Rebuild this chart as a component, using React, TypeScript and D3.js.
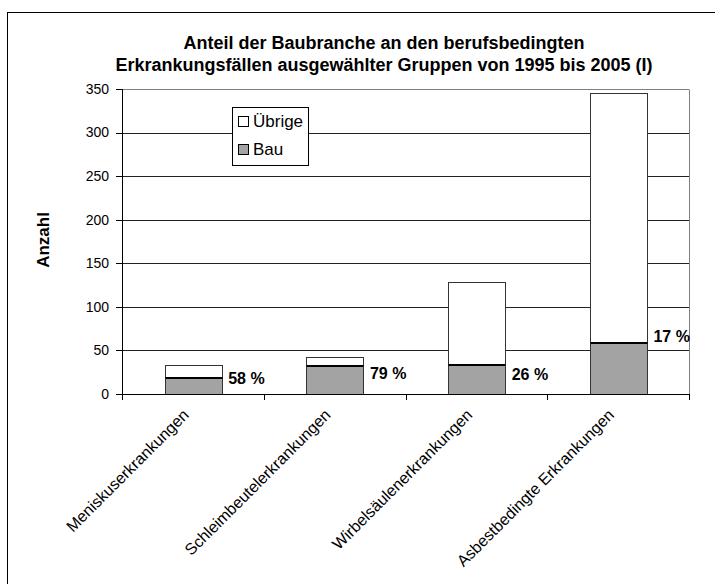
import React from "react";
import * as d3 from "d3";

const categories = [
  "Meniskuserkrankungen",
  "Schleimbeutelerkrankungen",
  "Wirbelsäulenerkrankungen",
  "Asbestbedingte Erkrankungen",
];
const bauValues = [19, 33, 34, 60];
const uebrigeValues = [14, 9, 95, 285];
// value-axis height at which each percentage annotation sits
const labelAnchorValues = [17.5, 24, 23, 66];
const yTicks = [0, 50, 100, 150, 200, 250, 300, 350];
const titleLines = [
  "Anteil der Baubranche an den berufsbedingten",
  "Erkrankungsfällen ausgewählter Gruppen von 1995 bis 2005 (I)",
];
const legendItems = [
  { label: "Übrige", fill: "#ffffff" },
  { label: "Bau", fill: "#a3a3a3" },
];

const W = 715;
const H = 584;
const plotLeft = 122;
const plotRight = 689;
const plotTop = 89;
const plotBottom = 394;
const FONT = "'Liberation Sans', Arial, Helvetica, sans-serif";
const BAU = "#a3a3a3";

export default function App() {
  const x = d3
    .scaleBand<string>()
    .domain(categories)
    .range([plotLeft, plotRight])
    .paddingInner(0.6)
    .paddingOuter(0.3);
  const slot = d3
    .scaleBand<string>()
    .domain(categories)
    .range([plotLeft, plotRight])
    .padding(0);
  const y = d3.scaleLinear().domain([0, 350]).range([plotBottom, plotTop]);

  const stackData = categories.map((c, i) => ({
    cat: c,
    bau: bauValues[i],
    ueb: uebrigeValues[i],
  }));
  const stack = d3.stack<any>().keys(["bau", "ueb"])(stackData);

  return (
    <svg
      width={W}
      height={H}
      style={{ position: "absolute", left: 0, top: 0, background: "#fff" }}
      fontFamily={FONT}
    >
      <rect x={0} y={0} width={W} height={H} fill="#fff" />
      {/* outer chart frame */}
      <rect x={7.5} y={12.5} width={800} height={700} fill="none" stroke="#000" strokeWidth={1} />

      {/* title */}
      {titleLines.map((t, i) => (
        <text
          key={i}
          x={384}
          y={49 + i * 22}
          textAnchor="middle"
          fontSize={18}
          fontWeight="bold"
          fill="#000"
        >
          {t}
        </text>
      ))}

      {/* gridlines */}
      {yTicks.slice(1).map((t) => (
        <line
          key={t}
          x1={plotLeft}
          x2={plotRight}
          y1={Math.round(y(t)) + 0.5}
          y2={Math.round(y(t)) + 0.5}
          stroke={t === 350 ? "#808080" : "#222"}
          strokeWidth={1}
        />
      ))}
      {/* plot border right */}
      <line
        x1={plotRight + 0.5}
        x2={plotRight + 0.5}
        y1={Math.round(y(350)) + 0.5}
        y2={plotBottom}
        stroke="#808080"
      />

      {/* bars */}
      {stack.map((layer, li) =>
        layer.map((d, i) => {
          const cat = categories[i];
          const x0 = Math.round(x(cat)!) + 0.5;
          const w = Math.round(x.bandwidth());
          const yTop = Math.round(y(d[1])) + 0.5;
          const yBot = Math.round(y(d[0])) + 0.5;
          return (
            <rect
              key={li + "-" + i}
              x={x0}
              y={yTop}
              width={w}
              height={yBot - yTop}
              fill={li === 0 ? BAU : "#fff"}
              stroke="#333"
              strokeWidth={1}
            />
          );
        })
      )}
      {/* junction lines between Bau and Übrige */}
      {stack[0].map((d, i) => {
        const cat = categories[i];
        const x0 = Math.round(x(cat)!) + 0.5;
        const w = Math.round(x.bandwidth());
        const yy = Math.round(y(d[1])) + 1;
        return <line key={"j" + i} x1={x0} x2={x0 + w} y1={yy} y2={yy} stroke="#000" strokeWidth={2} />;
      })}

      {/* percentage labels */}
      {categories.map((cat, i) => {
        const pct = Math.round((bauValues[i] / (bauValues[i] + uebrigeValues[i])) * 100);
        return (
          <text
            key={"p" + i}
            x={x(cat)! + x.bandwidth() + 7}
            y={y(labelAnchorValues[i])}
            dy="0.35em"
            fontSize={16}
            fontWeight="bold"
            fill="#000"
          >
            {pct + " %"}
          </text>
        );
      })}

      {/* axes */}
      <line x1={plotLeft + 0.5} x2={plotLeft + 0.5} y1={y(350)} y2={plotBottom} stroke="#000" />
      <line x1={plotLeft} x2={plotRight + 1} y1={plotBottom + 0.5} y2={plotBottom + 0.5} stroke="#000" />
      {yTicks.map((t) => (
        <g key={"yt" + t}>
          <line
            x1={plotLeft - 6}
            x2={plotLeft}
            y1={Math.round(y(t)) + 0.5}
            y2={Math.round(y(t)) + 0.5}
            stroke="#000"
          />
          <text x={109} y={y(t)} dy="0.35em" textAnchor="end" fontSize={14} fill="#000">
            {t}
          </text>
        </g>
      ))}
      {categories.concat(["__end"]).map((c, i) => {
        const xx = Math.round(plotLeft + i * slot.step()) + 0.5;
        return <line key={"xt" + i} x1={xx} x2={xx} y1={plotBottom} y2={plotBottom + 6} stroke="#000" />;
      })}
      {categories.map((cat) => {
        const cx = slot(cat)! + slot.bandwidth() / 2 - 3;
        const cy = 416;
        return (
          <text
            key={"xl" + cat}
            x={cx}
            y={cy}
            textAnchor="end"
            fontSize={16}
            fill="#000"
            transform={`rotate(-45 ${cx} ${cy})`}
          >
            {cat}
          </text>
        );
      })}

      {/* y-axis title */}
      <text
        x={0}
        y={0}
        transform="translate(49 240) rotate(-90)"
        textAnchor="middle"
        fontSize={17}
        fontWeight="bold"
        fill="#000"
      >
        Anzahl
      </text>

      {/* legend */}
      <rect x={232.5} y={107.5} width={76} height={58} fill="#fff" stroke="#000" />
      {legendItems.map((it, i) => (
        <g key={"lg" + i}>
          <rect x={238.5} y={116.5 + i * 28} width={10} height={10} fill={it.fill} stroke="#000" />
          <text x={253} y={121.5 + i * 28} dy="0.35em" fontSize={17} fill="#000">
            {it.label}
          </text>
        </g>
      ))}
    </svg>
  );
}
